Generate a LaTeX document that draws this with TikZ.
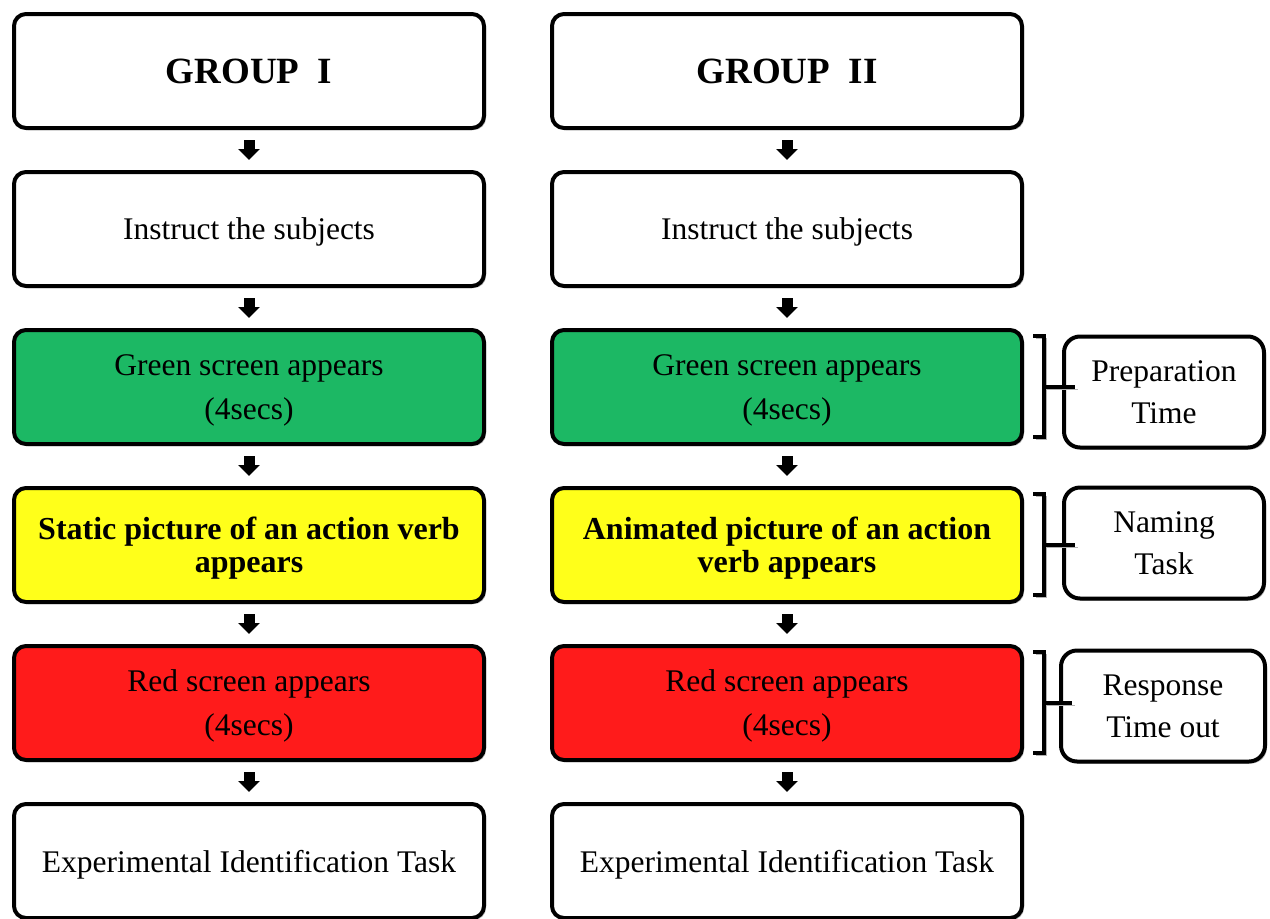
\documentclass[tikz,border=0pt]{standalone}
\usepackage{fontspec}
\setmainfont{Liberation Serif}
\usepackage{xcolor}
\usepackage{tikz}
\usetikzlibrary{arrows.meta,positioning,shadows}
\definecolor{cgreen}{HTML}{1CB864}
\definecolor{cyellow}{HTML}{FFFF1A}
\definecolor{cred}{HTML}{FF1B1B}

\begin{document}
\begin{tikzpicture}[x=1pt,y=1pt,node distance=40pt,
  box/.style={rectangle,rounded corners=12pt,draw,line width=4pt,align=center,
              minimum width=470pt,minimum height=114pt,fill=white,text depth=0pt,
              font=\fontsize{31.5}{44}\selectfont,
              drop shadow={shadow xshift=2pt,shadow yshift=-2pt,fill=black!50,opacity=.6}},
  head/.style={font=\fontsize{37}{44}\selectfont\bfseries},
  bold/.style={font=\fontsize{32}{33}\selectfont\bfseries},
  side/.style={box,rounded corners=16pt,minimum width=200pt,minimum height=111pt,
               font=\fontsize{31.5}{42}\selectfont},
  dn/.style={line width=11pt,-{Triangle[width=21pt,length=11pt]},
             shorten <=10pt,shorten >=10pt},
  brk/.style={line width=3.5pt,line join=miter,
              preaction={draw=black!30,transform canvas={shift={(2.5pt,-2.5pt)}}}}]
\useasboundingbox (0,0) rectangle (1270,-919);
% group I
\node[box,head] at (249,-71)          (a1) {GROUP\ \ I};
\node[box,below=of a1]                (a2) {Instruct the subjects};
\node[box,fill=cgreen,below=of a2]    (a3) {Green screen appears\\(4secs)};
\node[box,bold,fill=cyellow,below=of a3] (a4) {Static picture of an action verb\\appears};
\node[box,fill=cred,below=of a4]      (a5) {Red screen appears\\(4secs)};
\node[box,below=of a5]                (a6) {Experimental Identification Task};
% group II
\node[box,head] at (787,-71)          (b1) {GROUP\ \ II};
\node[box,below=of b1]                (b2) {Instruct the subjects};
\node[box,fill=cgreen,below=of b2]    (b3) {Green screen appears\\(4secs)};
\node[box,bold,fill=cyellow,below=of b3] (b4) {Animated picture of an action\\verb appears};
\node[box,fill=cred,below=of b4]      (b5) {Red screen appears\\(4secs)};
\node[box,below=of b5]                (b6) {Experimental Identification Task};
% phases
\node[side] at (1164,-392) (prep) {Preparation\\Time};
\node[side] at (1164,-543) (name) {Naming\\Task};
\node[side,minimum width=204pt] at (1163,-706) (resp) {Response\\Time out};
\foreach \i/\j in {1/2,2/3,3/4,4/5,5/6}{
  \draw[dn] (a\i) -- (a\j);
  \draw[dn] (b\i) -- (b\j);
}
\foreach \b/\s in {b3/prep,b4/name,b5/resp}{
  \draw[brk] ([xshift=9pt,yshift=-8pt]\b.north east) -| ([xshift=20pt,yshift=9pt]\b.south east) -- ++(-11pt,0);
  \draw[brk,shorten >=7pt] ([xshift=20pt]\b.east) -- ([xshift=20pt]\b.east -| \s.west);
}
\end{tikzpicture}
\end{document}
